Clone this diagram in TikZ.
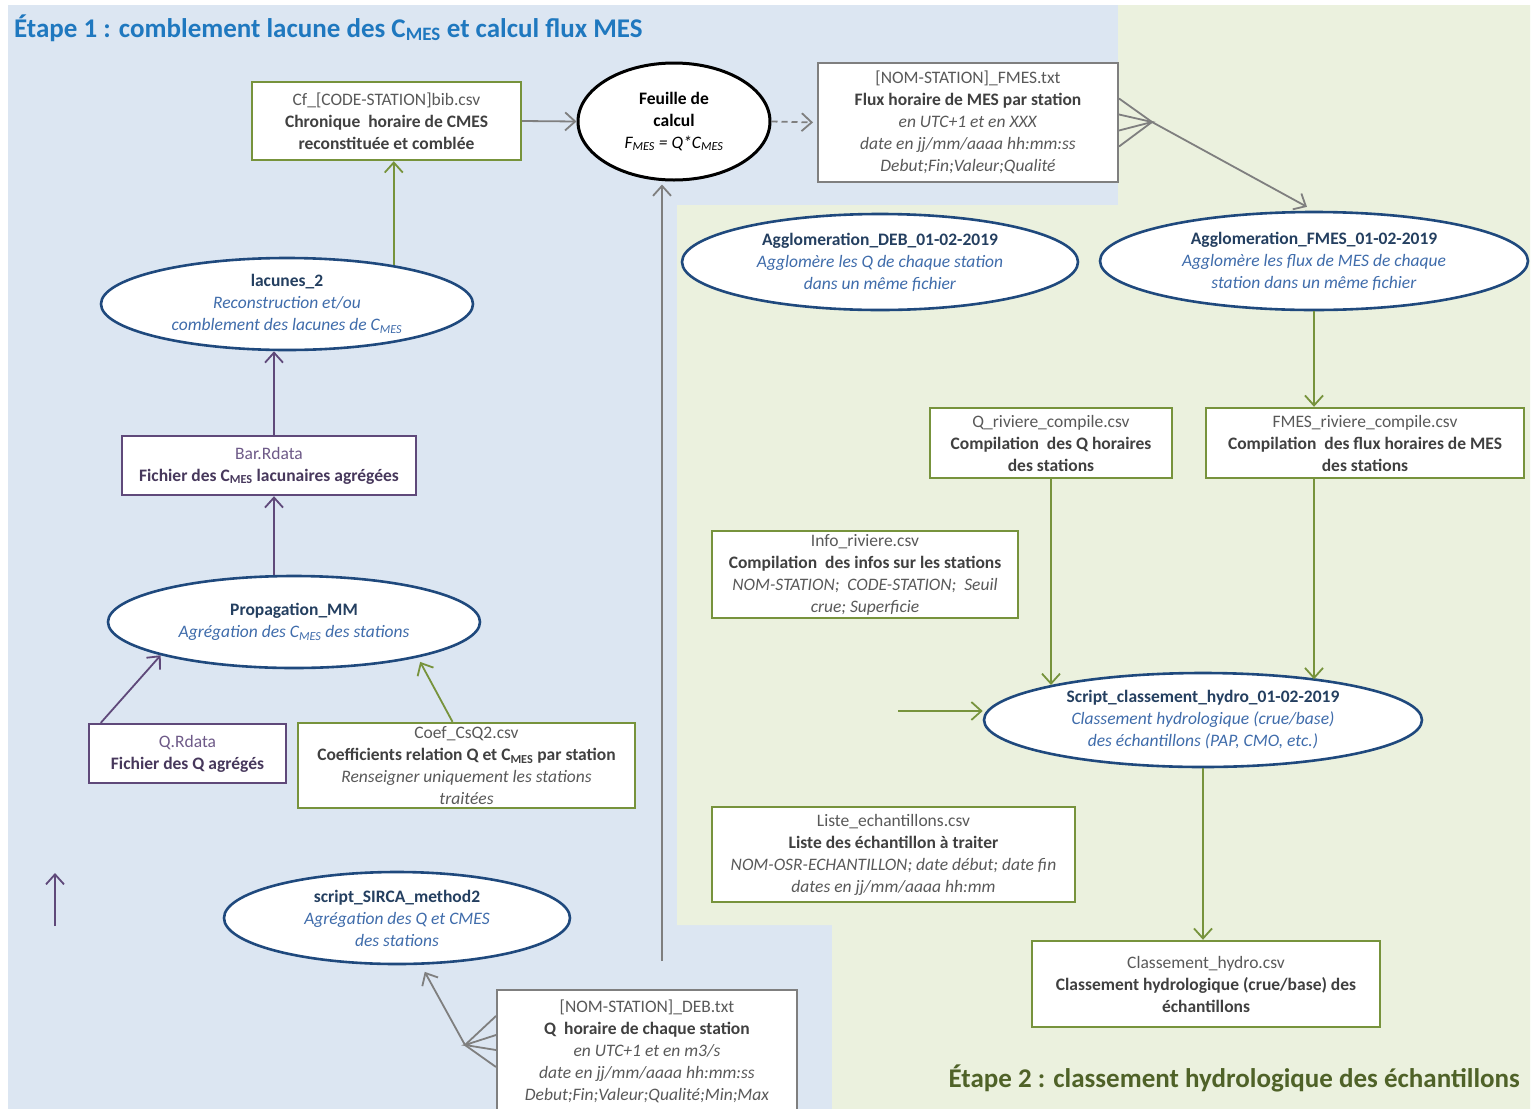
\documentclass[tikz,border=0pt]{standalone}
\usepackage{fontspec}
\setmainfont{Carlito}
\usetikzlibrary{shapes.geometric,arrows.meta,calc}
\definecolor{bgblue}{HTML}{DCE6F2}
\definecolor{bggreen}{HTML}{EBF1DE}
\definecolor{olive}{HTML}{77933C}
\definecolor{purp}{HTML}{5F497A}
\definecolor{greyline}{HTML}{7F7F7F}
\definecolor{navy}{HTML}{1F497D}
\definecolor{titlenavy}{HTML}{243F60}
\definecolor{itblue}{HTML}{3F6CAB}
\definecolor{txtgrey}{HTML}{595959}
\definecolor{txtdark}{HTML}{404040}
\definecolor{ptxt}{HTML}{6E5A88}
\definecolor{pdark}{HTML}{47385C}
\definecolor{titleone}{HTML}{1F78BF}
\definecolor{titletwo}{HTML}{4F6228}
\newcommand{\myfn}[1]{\textcolor{txtgrey}{#1}}
\newcommand{\mybf}[1]{\textcolor{txtdark}{\textbf{#1}}}
\newcommand{\myit}[1]{\textcolor{txtgrey}{\textit{#1}}}
\newcommand{\myet}[1]{\textcolor{titlenavy}{\textbf{#1}}}
\newcommand{\myei}[1]{\textcolor{itblue}{\textit{#1}}}
\newcommand{\mypf}[1]{\textcolor{ptxt}{#1}}
\newcommand{\mypb}[1]{\textcolor{pdark}{\textbf{#1}}}
\begin{document}
\begin{tikzpicture}[x=1pt,y=-1pt,
  every node/.style={font=\fontsize{17.5}{22}\selectfont, align=center, inner sep=0pt},
  box/.style={draw, fill=white, line width=2.4pt, rectangle},
  gbox/.style={box, draw=olive},
  pbox/.style={box, draw=purp},
  greybox/.style={box, draw=greyline, line width=2pt},
  proc/.style={ellipse, draw=navy, fill=white, line width=2.6pt},
  arr/.style={line width=1.8pt, -{Straight Barb[length=10pt,width=18pt]}},
  garr/.style={arr, draw=olive},
  parr/.style={arr, draw=purp},
  grarr/.style={arr, draw=greyline},
  fanline/.style={draw=greyline, line width=1.8pt},
]
\useasboundingbox (0,0) rectangle (1535,1109);
\fill[white] (0,0) rectangle (1535,1109);
\fill[bgblue] (8,5) -- (1118,5) -- (1118,205) -- (677,205) -- (677,925) -- (832,925) -- (832,1109) -- (8,1109) -- cycle;
\fill[bggreen] (1118,5) -- (1530,5) -- (1530,1109) -- (832,1109) -- (832,925) -- (677,925) -- (677,205) -- (1118,205) -- cycle;

% titles
\node[anchor=base west, font=\fontsize{27}{32}\selectfont\bfseries, text=titleone] (t1) at (14,37) {Étape 1 : comblement lacune des C\textsubscript{MES} et calcul flux MES};
\node[anchor=base east, font=\fontsize{27}{32}\selectfont\bfseries, text=titletwo] (t2) at (1520,1087) {Étape 2 : classement hydrologique des échantillons};

% top row
\node[gbox, minimum width=269pt, minimum height=78pt] (cf) at (386.5,121) {\myfn{Cf\_[CODE-STATION]bib.csv}\\\mybf{Chronique\ \ horaire de CMES}\\\mybf{reconstituée et comblée}};
\node[ellipse, draw=black, fill=white, line width=3pt, minimum width=192pt, minimum height=117pt] (feuille) at (674,121.5) {\textbf{Feuille de}\\\textbf{calcul}\\\textit{F\textsubscript{MES} = Q*C\textsubscript{MES}}};
\node[greybox, minimum width=300pt, minimum height=119pt] (fmes) at (968,122.5) {\myfn{[NOM-STATION]\_FMES.txt}\\\mybf{Flux horaire de MES par station}\\\myit{en UTC+1 et en XXX}\\\myit{date en jj/mm/aaaa hh:mm:ss}\\\myit{Debut;Fin;Valeur;Qualité}};

% right side
\node[proc, minimum width=396pt, minimum height=96pt] (aggD) at (880,262) {\myet{Agglomeration\_DEB\_01-02-2019}\\\myei{Agglomère les Q de chaque station}\\\myei{dans un même fichier}};
\node[proc, minimum width=428pt, minimum height=98pt] (aggF) at (1314,261) {\myet{Agglomeration\_FMES\_01-02-2019}\\\myei{Agglomère les flux de MES de chaque}\\\myei{station dans un même fichier}};
\node[gbox, minimum width=242pt, minimum height=70pt] (qr) at (1051,443) {\myfn{Q\_riviere\_compile.csv}\\\mybf{Compilation\ \ des Q horaires}\\\mybf{des stations}};
\node[gbox, minimum width=318pt, minimum height=70pt] (fmesr) at (1365,443) {\myfn{FMES\_riviere\_compile.csv}\\\mybf{Compilation\ \ des flux horaires de MES}\\\mybf{des stations}};
\node[gbox, minimum width=306pt, minimum height=87pt] (info) at (865,574.5) {\myfn{Info\_riviere.csv}\\\mybf{Compilation\ \ des infos sur les stations}\\\myit{NOM-STATION;\ \ CODE-STATION;\ \ Seuil}\\\myit{crue; Superficie}};
\node[proc, minimum width=438pt, minimum height=94pt] (script) at (1203,720) {\myet{Script\_classement\_hydro\_01-02-2019}\\\myei{Classement hydrologique (crue/base)}\\\myei{des échantillons (PAP, CMO, etc.)}};
\node[gbox, minimum width=363pt, minimum height=95pt] (liste) at (893.5,854.5) {\myfn{Liste\_echantillons.csv}\\\mybf{Liste des échantillon à traiter}\\\myit{NOM-OSR-ECHANTILLON; date début; date fin}\\\myit{dates en jj/mm/aaaa hh:mm}};
\node[gbox, minimum width=348pt, minimum height=86pt] (cls) at (1206,984) {\myfn{Classement\_hydro.csv}\\\mybf{Classement hydrologique (crue/base) des}\\\mybf{échantillons}};

% left side
\node[proc, minimum width=372pt, minimum height=92pt] (lac) at (287,304) {\myet{lacunes\_2}\\\myei{Reconstruction et/ou}\\\myei{comblement des lacunes de C\textsubscript{MES}}};
\node[pbox, minimum width=294pt, minimum height=59pt] (bar) at (269,465.5) {\mypf{Bar.Rdata}\\\mypb{Fichier des C\textsubscript{MES} lacunaires agrégées}};
\node[proc, minimum width=372pt, minimum height=92pt] (prop) at (294,622) {\myet{Propagation\_MM}\\\myei{Agrégation des C\textsubscript{MES} des stations}};
\node[pbox, minimum width=197pt, minimum height=59pt] (qd) at (187.5,753.5) {\mypf{Q.Rdata}\\\mypb{Fichier des Q agrégés}};
\node[gbox, minimum width=337pt, minimum height=85pt] (coef) at (466.5,765.5) {\myfn{Coef\_CsQ2.csv}\\\mybf{Coefficients relation Q et C\textsubscript{MES} par station}\\\myit{Renseigner uniquement les stations}\\\myit{traitées}};
\node[proc, minimum width=346pt, minimum height=92pt] (sirca) at (397,918) {\myet{script\_SIRCA\_method2}\\\myei{Agrégation des Q et CMES}\\\myei{des stations}};
\node[greybox, minimum width=300pt, minimum height=122pt] (deb) at (647,1051) {\myfn{[NOM-STATION]\_DEB.txt}\\\mybf{Q\ \ horaire de chaque station}\\\myit{en UTC+1 et en m3/s}\\\myit{date en jj/mm/aaaa hh:mm:ss}\\\myit{Debut;Fin;Valeur;Qualité;Min;Max}};

% connectors top
\draw[grarr] (cf.east) -- (feuille.west);
\draw[grarr, dash pattern=on 6pt off 4pt, shorten >=4pt] (feuille.east) -- (fmes.west);
\coordinate (fj) at (1152,122);
\draw[fanline] ([yshift=24pt]fmes.east) -- (fj) -- ([yshift=-24pt]fmes.east);
\draw[fanline] ([yshift=8pt]fmes.east) -- (fj) -- ([yshift=-8pt]fmes.east);
\draw[grarr, shorten >=8pt] (fj) -- (aggF.north);

% right connectors
\draw[garr] (aggF.south) -- (aggF.south |- fmesr.north);
\draw[garr] (qr.south) -- (qr.south |- script.167.5);
\draw[garr] (aggF.south |- fmesr.south) -- (aggF.south |- script.19.6);
\coordinate (sin) at (898,711);
\draw[garr] (sin) -- (script.west |- sin);
\draw[garr] (script.south) -- (script.south |- cls.north);

% left connectors
\draw[garr] (lac.20) -- (lac.20 |- cf.south);
\draw[parr] ([xshift=5pt]bar.north) -- ([xshift=5pt]bar.north |- lac.south);
\draw[parr] ([xshift=5pt]bar.south |- prop.north) -- ([xshift=5pt]bar.south);
\draw[parr] ([xshift=13pt]qd.north west) -- (prop.194);
\draw[garr, shorten >=5pt] ([xshift=-14pt]coef.north) -- (prop.344);
\coordinate (pa1) at (55,926);
\coordinate (pa2) at (55,873);
\draw[parr] (pa1) -- (pa2);

% DEB fan
\coordinate (dj) at (465,1045);
\draw[fanline] ([yshift=35pt]deb.west) -- (dj) -- ([yshift=-16pt]deb.west);
\draw[fanline] ([yshift=16pt]deb.west) -- (dj) -- ([yshift=1pt]deb.west);
\draw[grarr, shorten >=8pt] (dj) -- (sirca.297);
\coordinate (vl) at (662,961);
\draw[grarr, shorten >=3pt] (vl) -- (vl |- feuille.south);
\end{tikzpicture}
\end{document}
